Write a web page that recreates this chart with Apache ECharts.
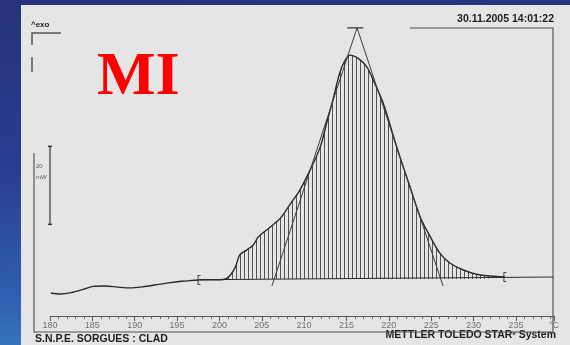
<!DOCTYPE html>
<html>
<head>
<meta charset="utf-8">
<script src="https://cdn.jsdelivr.net/npm/echarts@6/dist/echarts.min.js"></script>
<style>
  html, body { margin: 0; padding: 0; }
  body {
    width: 570px; height: 345px; overflow: hidden; position: relative;
    background: linear-gradient(175deg, #26327a 0%, #2a3f92 45%, #2f5fb0 75%, #3c86c8 100%);
  }
  #paper {
    position: absolute; left: 21px; top: 5px; width: 549px; height: 340px;
    background: #e5e5e5;
  }
  #chart { position: absolute; left: 0; top: 0; width: 570px; height: 345px; }
</style>
</head>
<body>
<div id="paper"></div>
<div id="chart"></div>
<script>
// DSC melting endotherm (heat flow, mW) against sample temperature (°C)
const tempC = [180.1, 181.2, 182.5, 184.0, 185.1, 186.5, 188.0, 189.4, 191.0, 192.5,
  194.0, 195.5, 197.0, 197.6, 198.5, 200.1, 200.8, 201.3, 201.9, 202.4,
  203.2, 204.0, 204.6, 206.0, 207.2, 208.3, 209.5, 210.7, 211.9, 212.7,
  213.4, 214.2, 214.8, 215.4, 216.3, 217.4, 218.3, 219.2, 219.8, 220.5,
  221.3, 222.5, 223.7, 224.9, 226.0, 227.2, 228.8, 230.8, 233.7];
const heatFlow = [-3.6, -3.85, -3.5, -2.6, -1.9, -1.8, -2.1, -2.3, -2.0, -1.5,
  -1.0, -0.6, -0.35, -0.25, -0.2, -0.2, 0.1, 1.0, 3.1, 6.2,
  7.4, 8.7, 10.8, 13.3, 15.6, 19.0, 22.8, 27.9, 33.8, 40.3,
  45.9, 52.8, 55.9, 57.4, 56.7, 54.4, 50.3, 45.9, 42.0, 36.9,
  31.3, 23.6, 15.9, 10.8, 6.7, 4.1, 2.3, 1.0, 0.5];

// integration limits and baseline
const integLimits = [197.6, 233.7];
const baselineT = [197.6, 239.4];
const baselineV = [-0.2, 0.5];

// onset / endset tangents meeting above the peak
const tangentT = [206.2, 216.25, 226.4];
const tangentV = [-1.8, 64.4, -1.8];
const apexBarT = [215.1, 217.0];

// 20 mW scale bar
const scaleBarV = [14, 34];

const xTicks = { min: 180, max: 239.5, step: 5, unit: '°C' };

const curve = tempC.map((t, i) => [t, heatFlow[i]]);
const hatched = curve.filter(p => p[0] >= integLimits[0] && p[0] <= integLimits[1]);
const limitPoints = integLimits.map(t => {
  const p = curve.find(q => q[0] === t);
  return [t, p ? p[1] : 0];
});

// vertical hatching for the integrated area
const hatch = document.createElement('canvas');
hatch.width = 4; hatch.height = 4;
const hctx = hatch.getContext('2d');
hctx.fillStyle = 'rgba(55,55,55,0.85)';
hctx.fillRect(0, 0, 1, 4);

const ink = '#2a2a2a';
const chart = echarts.init(document.getElementById('chart'), null, { renderer: 'canvas' });

chart.setOption({
  animation: false,
  backgroundColor: 'transparent',
  title: {
    text: 'MI', left: 97, top: 47, padding: 0,
    textStyle: { color: '#ff0000', fontFamily: 'Liberation Serif', fontWeight: 'bold', fontSize: 62 }
  },
  grid: { left: 50, right: 16, top: 19.6, bottom: 29, containLabel: false },
  xAxis: {
    type: 'value', min: xTicks.min, max: xTicks.max, interval: xTicks.step,
    axisLine: { onZero: false, lineStyle: { color: '#555', width: 1 } },
    axisTick: { show: true, length: 5, lineStyle: { color: '#555' } },
    minorTick: { show: true, splitNumber: 5, length: 3, lineStyle: { color: '#666' } },
    splitLine: { show: false },
    axisLabel: {
      margin: 5, fontSize: 9, color: '#707070', fontFamily: 'Liberation Sans',
      formatter: v => (v === xTicks.max ? xTicks.unit : String(v)),
      showMaxLabel: true
    }
  },
  yAxis: { type: 'value', min: -9.5, max: 66.5, show: false },
  series: [
    {
      name: 'area', type: 'line', data: hatched, smooth: 0.3, symbol: 'none',
      lineStyle: { width: 0, opacity: 0 },
      areaStyle: { color: { image: hatch, repeat: 'repeat' }, opacity: 1 },
      z: 1
    },
    {
      name: 'baseline', type: 'line', symbol: 'none',
      data: baselineT.map((t, i) => [t, baselineV[i]]),
      lineStyle: { color: ink, width: 1 }, z: 2
    },
    {
      name: 'heat flow', type: 'line', data: curve, smooth: 0.3, symbol: 'none',
      lineStyle: { color: ink, width: 1.4 }, z: 3
    },
    {
      name: 'tangents', type: 'line', symbol: 'none',
      data: tangentT.map((t, i) => [t, tangentV[i]]),
      lineStyle: { color: '#3a3a3a', width: 1 }, z: 3
    },
    {
      name: 'apex', type: 'line', symbol: 'none',
      data: apexBarT.map(t => [t, tangentV[1]]),
      lineStyle: { color: '#3a3a3a', width: 1.3 }, z: 3
    },
    {
      name: 'limits', type: 'scatter', data: limitPoints,
      symbol: 'path://M0,0 L3,0 L3,1 L1,1 L1,9 L3,9 L3,10 L0,10 Z',
      symbolSize: [3, 10], itemStyle: { color: '#1e1e1e' }, z: 4
    },
    {
      name: 'scale', type: 'line', clip: false,
      data: scaleBarV.map(v => [xTicks.min, v]),
      symbol: 'rect', symbolSize: [4, 1.5], showSymbol: true,
      itemStyle: { color: '#333' },
      lineStyle: { color: '#444', width: 1.3 }, z: 4
    }
  ],
  graphic: [
    { type: 'text', right: 16, top: 14,
      style: { text: '30.11.2005 14:01:22', font: 'bold 10.5px "Liberation Sans"', fill: '#1c1c1c' } },
    { type: 'text', left: 31, top: 21,
      style: { text: '^exo', font: 'bold 8px "Liberation Sans"', fill: '#222' } },
    { type: 'text', left: 36, top: 161,
      style: { text: '20\nmW', font: '6px "Liberation Sans"', fill: '#555', lineHeight: 11 } },
    { type: 'text', left: 35, top: 334,
      style: { text: 'S.N.P.E. SORGUES : CLAD', font: 'bold 10.5px "Liberation Sans"', fill: '#1c1c1c' } },
    { type: 'text', right: 14, top: 330,
      style: {
        text: 'METTLER TOLEDO STAR{sup|e} System',
        font: 'bold 10.5px "Liberation Sans"', fill: '#1c1c1c',
        rich: { sup: { fontSize: 6, fontWeight: 'bold', verticalAlign: 'top', padding: [0, 0, 5, 0] } }
      } },
    // frame of the printout
    { type: 'polyline', shape: { points: [[34, 153], [34, 332], [553, 332], [553, 28], [410, 28]] },
      style: { stroke: '#555', lineWidth: 1.2, fill: null } },
    { type: 'polyline', shape: { points: [[32, 45], [32, 33], [61, 33]] },
      style: { stroke: '#555', lineWidth: 1.5, fill: null } },
    { type: 'line', shape: { x1: 32, y1: 57, x2: 32, y2: 72 },
      style: { stroke: '#555', lineWidth: 1.5 } }
  ]
});
</script>
</body>
</html>
